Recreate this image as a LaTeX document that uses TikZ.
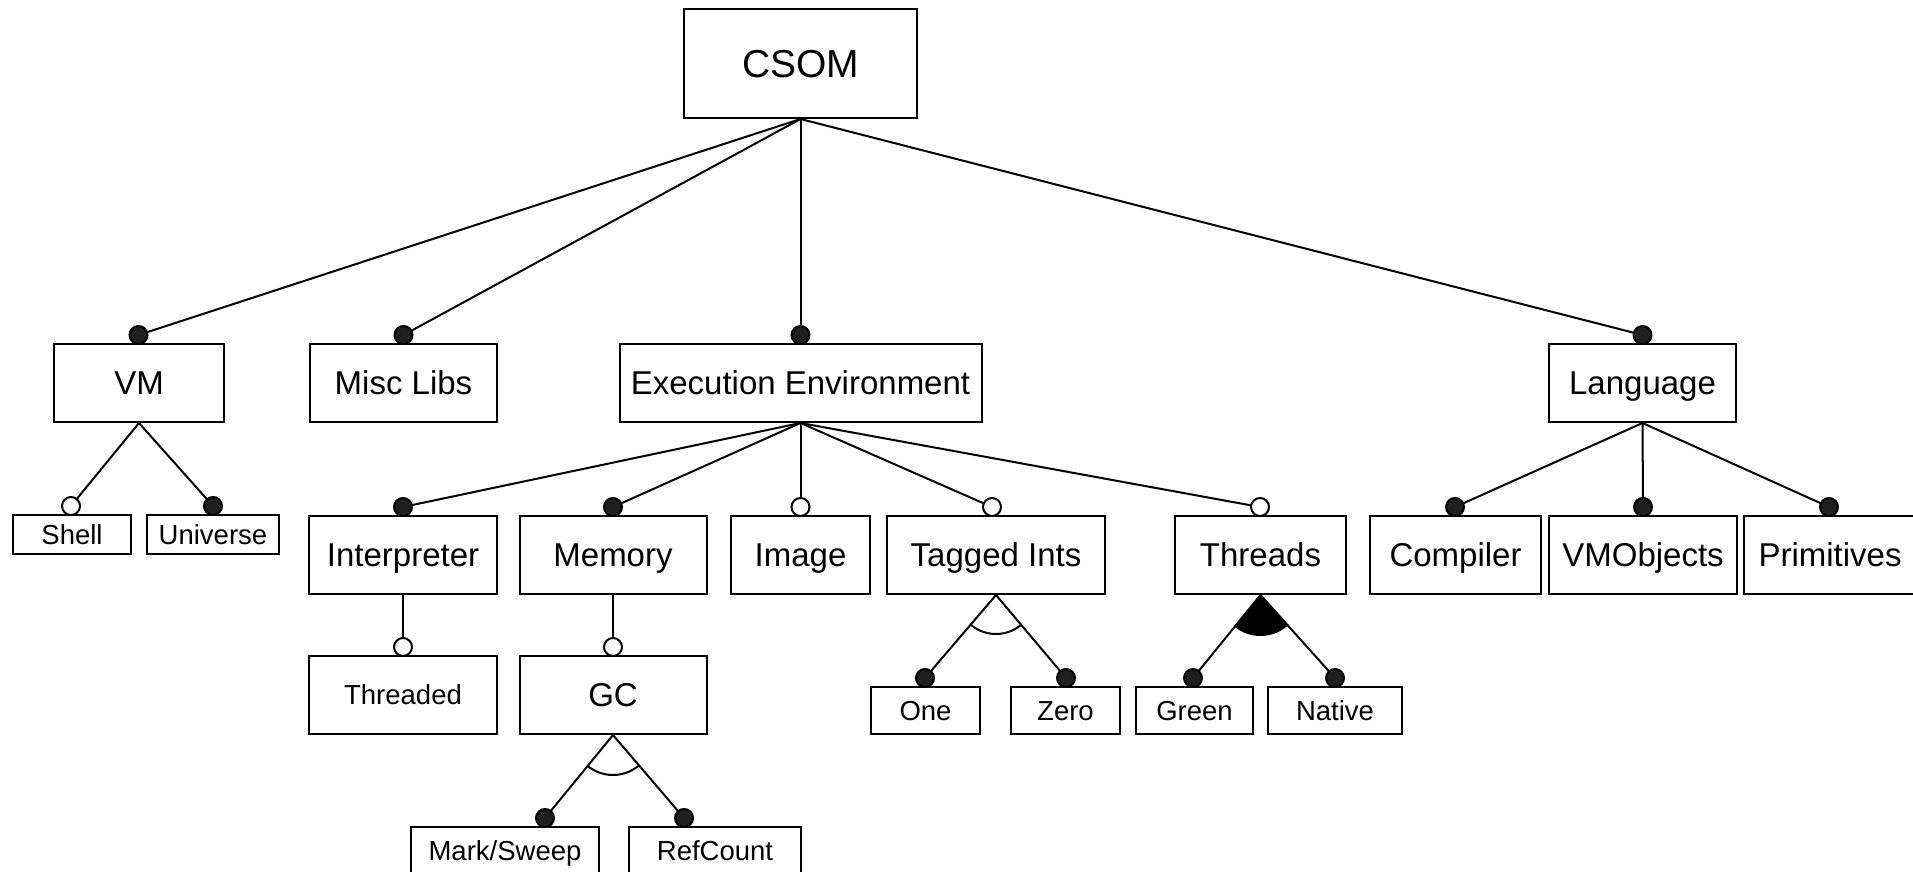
\documentclass[tikz,border=0pt]{standalone}
\usepackage{fontspec}
\setmainfont{Liberation Sans}
\begin{document}
\begin{tikzpicture}[x=1pt,y=-1pt,
  feat/.style={draw, line width=2pt, rectangle, inner sep=0pt, text height=23.6pt, text depth=0pt, font=\fontsize{33}{40}\selectfont},
  bigfeat/.style={feat, text height=28pt, font=\fontsize{39}{46}\selectfont},
  smallfeat/.style={feat, text height=19.7pt, font=\fontsize{27.5}{33}\selectfont},
  mand/.style={circle, draw, line width=2pt, fill=black!88, minimum size=18pt, inner sep=0pt},
  opt/.style={circle, draw, line width=2pt, fill=white, minimum size=18pt, inner sep=0pt},
  conn/.style={line width=2pt},
  grp/.style={line width=2pt}
]
\useasboundingbox (0,0) rectangle (1913,872);

% feature boxes
\node[bigfeat, minimum width=233pt, minimum height=109pt] (csom) at (800.5,63.5) {CSOM};
\node[feat, minimum width=170pt, minimum height=78pt] (vm) at (139,383) {VM};
\node[feat, minimum width=187pt, minimum height=78pt] (misc) at (403.5,383) {Misc Libs};
\node[feat, minimum width=362pt, minimum height=78pt] (ee) at (800.5,383) {Execution Environment};
\node[feat, minimum width=187pt, minimum height=78pt] (lang) at (1642.5,383) {Language};

\node[smallfeat, minimum width=118pt, minimum height=39pt] (shell) at (72,534.5) {Shell};
\node[smallfeat, minimum width=132pt, minimum height=39pt] (univ) at (213,534.5) {Universe};

\node[feat, minimum width=188pt, minimum height=78pt] (interp) at (403,555) {Interpreter};
\node[feat, minimum width=187pt, minimum height=78pt] (memory) at (613,555) {Memory};
\node[feat, minimum width=139pt, minimum height=78pt] (image) at (800.5,555) {Image};
\node[feat, minimum width=218pt, minimum height=78pt] (tagged) at (996,555) {Tagged Ints};
\node[feat, minimum width=171pt, minimum height=78pt] (threads) at (1260.5,555) {Threads};
\node[feat, minimum width=171pt, minimum height=78pt] (compiler) at (1455.5,555) {Compiler};
\node[feat, minimum width=188pt, minimum height=78pt] (vmobj) at (1643,555) {VMObjects};
\node[feat, minimum width=172pt, minimum height=78pt] (prims) at (1830,555) {Primitives};

\node[smallfeat, minimum width=188pt, minimum height=78pt] (threaded) at (403,695) {Threaded};
\node[feat, minimum width=187pt, minimum height=78pt] (gc) at (613,695) {GC};

\node[smallfeat, minimum width=109pt, minimum height=47pt] (one) at (925.5,710.5) {One};
\node[smallfeat, minimum width=109pt, minimum height=47pt] (zero) at (1065.5,710.5) {Zero};
\node[smallfeat, minimum width=117pt, minimum height=47pt] (green) at (1194.5,710.5) {Green};
\node[smallfeat, minimum width=134pt, minimum height=47pt] (native) at (1335,710.5) {Native};

\node[smallfeat, minimum width=188pt, minimum height=47pt] (ms) at (505,850.5) {Mark/Sweep};
\node[smallfeat, minimum width=172pt, minimum height=47pt] (rc) at (715,850.5) {RefCount};

% group arcs (drawn first, under lines)
\begin{scope}
  \clip (gc.south) -- (545,818) -- (684,818) -- cycle;
  \draw[grp] (gc.south) circle (40);
\end{scope}
\begin{scope}
  \clip (tagged.south) -- (925,678) -- (1066,678) -- cycle;
  \draw[grp] (tagged.south) circle (39);
\end{scope}
\begin{scope}
  \clip (threads.south) -- (1193,678) -- (1335,678) -- cycle;
  \fill[black] (threads.south) circle (41);
\end{scope}

% connectors
\draw[conn] (csom.south) -- (138.5,335) coordinate (vmt);
\draw[conn] (csom.south) -- (403.5,335) coordinate (misct);
\draw[conn] (csom.south) -- (800.5,335) coordinate (eet);
\draw[conn] (csom.south) -- (1642.5,335) coordinate (langt);

\draw[conn] (vm.south) -- (71,506) coordinate (shellt);
\draw[conn] (vm.south) -- (213,506) coordinate (univt);

\draw[conn] (ee.south) -- (403,507) coordinate (interpt);
\draw[conn] (ee.south) -- (613,507) coordinate (memt);
\draw[conn] (ee.south) -- (800.5,507) coordinate (imaget);
\draw[conn] (ee.south) -- (992,507) coordinate (taggedt);
\draw[conn] (ee.south) -- (1260,507) coordinate (threadst);

\draw[conn] (lang.south) -- (1455,507) coordinate (compt);
\draw[conn] (lang.south) -- (1643,507) coordinate (vmot);
\draw[conn] (lang.south) -- (1829,507) coordinate (primt);

\draw[conn] (interp.south) -- (403,647) coordinate (threadedt);
\draw[conn] (memory.south) -- (613,647) coordinate (gct);

\draw[conn] (gc.south) -- (545,818) coordinate (mst);
\draw[conn] (gc.south) -- (684,818) coordinate (rct);

\draw[conn] (tagged.south) -- (925,678) coordinate (onet);
\draw[conn] (tagged.south) -- (1066,678) coordinate (zerot);
\draw[conn] (threads.south) -- (1193,678) coordinate (greent);
\draw[conn] (threads.south) -- (1335,678) coordinate (nativet);

% end circles
\node[mand] (vmc) at (vmt) {};
\node[mand] (miscc) at (misct) {};
\node[mand] (eec) at (eet) {};
\node[mand] (langc) at (langt) {};
\node[opt] (shellc) at (shellt) {};
\node[mand] (univc) at (univt) {};
\node[mand] (interpc) at (interpt) {};
\node[mand] (memc) at (memt) {};
\node[opt] (imagec) at (imaget) {};
\node[opt] (taggedc) at (taggedt) {};
\node[opt] (threadsc) at (threadst) {};
\node[mand] (compc) at (compt) {};
\node[mand] (vmoc) at (vmot) {};
\node[mand] (primc) at (primt) {};
\node[opt] (threadedc) at (threadedt) {};
\node[opt] (gcc) at (gct) {};
\node[mand] (msc) at (mst) {};
\node[mand] (rcc) at (rct) {};
\node[mand] (onec) at (onet) {};
\node[mand] (zeroc) at (zerot) {};
\node[mand] (greenc) at (greent) {};
\node[mand] (nativec) at (nativet) {};
\end{tikzpicture}
\end{document}
